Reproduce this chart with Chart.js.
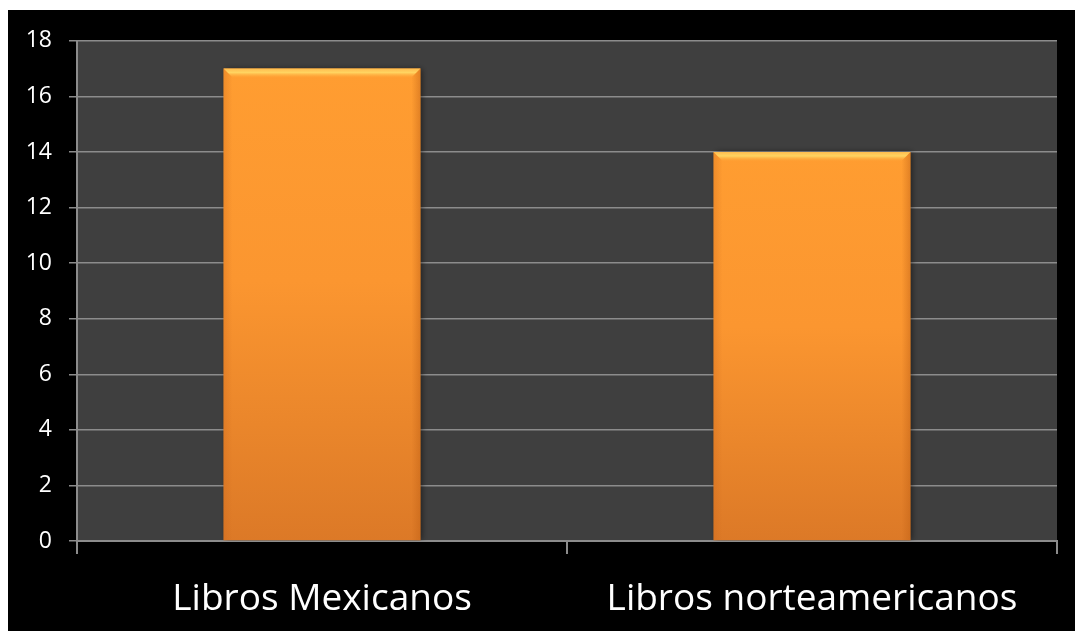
<!DOCTYPE html>
<html>
<head>
<meta charset="utf-8">
<script src="https://cdn.jsdelivr.net/npm/chart.js@4"></script>
<style>
  html, body { margin: 0; padding: 0; background: #ffffff; }
  #wrap { position: absolute; left: 8px; top: 10px; width: 1067px; height: 621px; background: #000000; }
  canvas { display: block; }
</style>
</head>
<body>
<div id="wrap"><canvas id="c" width="1067" height="621"></canvas></div>
<script>
const categories = ["Libros Mexicanos", "Libros norteamericanos"];
const seriesValues = [17, 14];
const yTicks = [0, 2, 4, 6, 8, 10, 12, 14, 16, 18];

const plotBg = {
  id: 'plotBg',
  beforeDraw(chart) {
    const { ctx, chartArea: a } = chart;
    ctx.save();
    ctx.fillStyle = '#3f3f3f';
    ctx.fillRect(a.left, a.top, a.right - a.left, a.bottom - a.top);
    ctx.restore();
  },
  beforeDatasetsDraw(chart) {
    const ctx = chart.ctx;
    ctx.save();
    ctx.shadowColor = 'rgba(0,0,0,0.5)';
    ctx.shadowBlur = 6;
    ctx.shadowOffsetX = 2;
    ctx.shadowOffsetY = 0;
  },
  afterDatasetsDraw(chart) {
    const ctx = chart.ctx;
    ctx.restore();
    const meta = chart.getDatasetMeta(0);
    const b = 9;
    meta.data.forEach(el => {
      const left = el.x - el.width / 2, right = el.x + el.width / 2, top = el.y, base = el.base;
      ctx.save();
      // top bevel
      let g = ctx.createLinearGradient(0, top, 0, top + b);
      g.addColorStop(0, 'rgba(255,190,80,0.95)');
      g.addColorStop(0.45, 'rgba(255,215,100,0.95)');
      g.addColorStop(1, 'rgba(255,170,60,0.1)');
      ctx.fillStyle = g;
      ctx.beginPath();
      ctx.moveTo(left, top); ctx.lineTo(right, top);
      ctx.lineTo(right - b, top + b); ctx.lineTo(left + b, top + b);
      ctx.closePath(); ctx.fill();
      // right bevel
      g = ctx.createLinearGradient(right - b, 0, right, 0);
      g.addColorStop(0, 'rgba(190,95,20,0.0)');
      g.addColorStop(1, 'rgba(190,95,20,0.45)');
      ctx.fillStyle = g;
      ctx.beginPath();
      ctx.moveTo(right, top); ctx.lineTo(right, base);
      ctx.lineTo(right - b, base); ctx.lineTo(right - b, top + b);
      ctx.closePath(); ctx.fill();
      // left bevel
      g = ctx.createLinearGradient(left, 0, left + b, 0);
      g.addColorStop(0, 'rgba(200,100,25,0.3)');
      g.addColorStop(1, 'rgba(200,100,25,0.0)');
      ctx.fillStyle = g;
      ctx.beginPath();
      ctx.moveTo(left, top); ctx.lineTo(left + b, top + b);
      ctx.lineTo(left + b, base); ctx.lineTo(left, base);
      ctx.closePath(); ctx.fill();
      ctx.restore();
    });
  }
};

new Chart(document.getElementById('c'), {
  type: 'bar',
  data: {
    labels: categories,
    datasets: [{
      data: seriesValues,
      backgroundColor(context) {
        const chart = context.chart;
        const y = chart.scales.y;
        if (!y || context.raw == null) return '#f7922e';
        const top = y.getPixelForValue(context.raw);
        const bot = y.getPixelForValue(0);
        if (!isFinite(top) || !isFinite(bot)) return '#f7922e';
        const g = chart.ctx.createLinearGradient(0, top, 0, bot);
        g.addColorStop(0, '#ff9d31');
        g.addColorStop(0.45, '#fb9630');
        g.addColorStop(1, '#dc7927');
        return g;
      },
      borderWidth: 0,
      categoryPercentage: 1.0,
      barPercentage: 0.402
    }]
  },
  options: {
    responsive: false,
    animation: false,
    layout: { padding: { left: 0, right: 18, top: 30, bottom: 0 } },
    plugins: { legend: { display: false }, tooltip: { enabled: false } },
    scales: {
      x: {
        offset: true,
        afterFit(s) { s.height = 90; },
        grid: { display: true, drawOnChartArea: false, drawTicks: true, tickLength: 13, offset: true, color: '#8c8c8c', lineWidth: 2 },
        border: { display: true, color: '#8c8c8c', width: 2 },
        ticks: { color: '#ffffff', font: { family: 'Open Sans', size: 37 }, padding: 23, maxRotation: 0 }
      },
      y: {
        min: 0, max: 18,
        afterFit(s) { s.width = 69; },
        afterBuildTicks(s) { s.ticks = yTicks.map(v => ({ value: v })); },
        grid: { color: '#8c8c8c', lineWidth: 1.5, tickLength: 8 },
        border: { display: true, color: '#8c8c8c', width: 2 },
        ticks: { color: '#ffffff', font: { family: 'Open Sans', size: 23 }, padding: 17 }
      }
    }
  },
  plugins: [plotBg]
});
</script>
</body>
</html>
